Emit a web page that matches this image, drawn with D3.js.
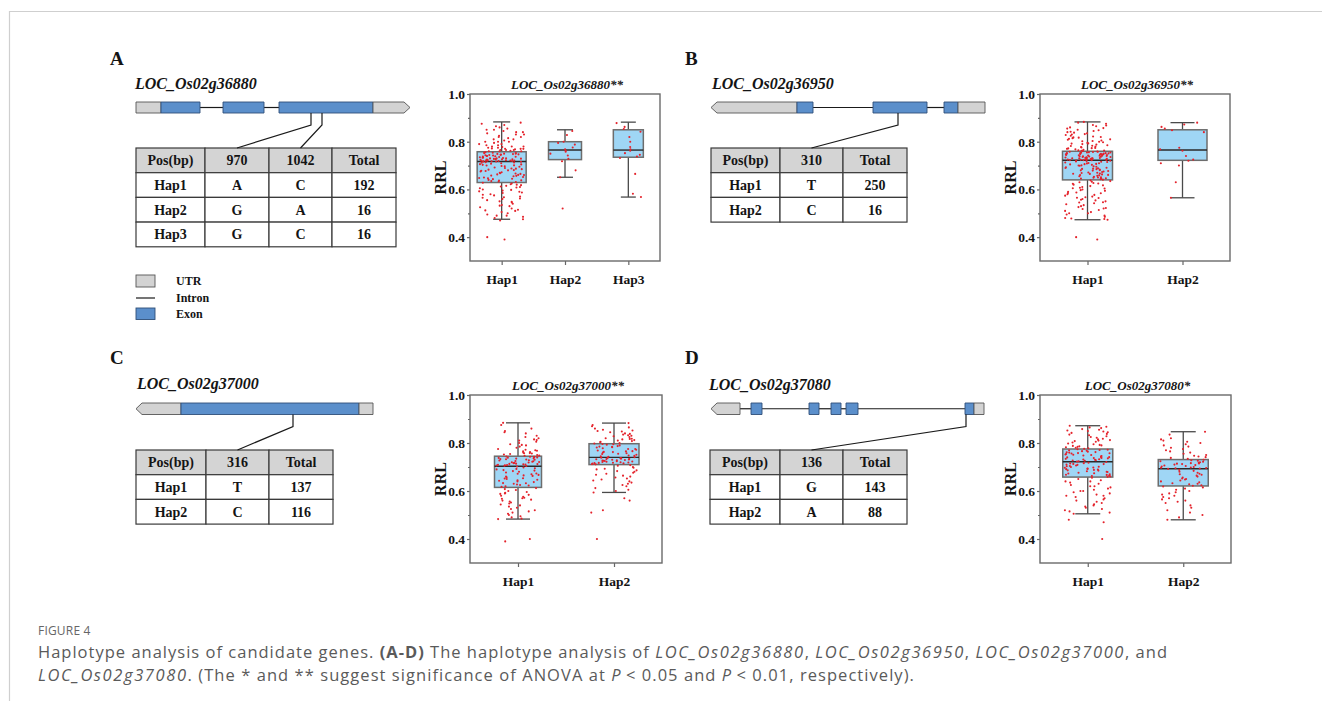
<!DOCTYPE html>
<html><head><meta charset="utf-8">
<script src="https://cdn.jsdelivr.net/npm/d3@7"></script>
<style>body{margin:0;background:#fff}svg{display:block}</style>
</head><body>
<svg id="fig" width="1322" height="701"></svg>
<script>
// ================= DATA =================
const panelLetters = ["A","B","C","D"];
const geneNames = ["LOC_Os02g36880","LOC_Os02g36950","LOC_Os02g37000","LOC_Os02g37080"];
const plotTitles = ["LOC_Os02g36880**","LOC_Os02g36950**","LOC_Os02g37000**","LOC_Os02g37080*"];
const hapsA = ["Hap1","Hap2","Hap3"];
const hapsB = ["Hap1","Hap2"];
const hapsC = ["Hap1","Hap2"];
const hapsD = ["Hap1","Hap2"];
const yMajor = [0.4,0.6,0.8,1.0];
const yMinor = [0.5,0.7,0.9];
const yDomain = [0.3,1.0];
const yLabel = "RRL";

// gene models: [feature, start, end] along the gene (relative units)
const geneA = [["utr",0,25],["exon",25,64],["intron",64,87],["exon",87,128],["intron",128,143],["exon",143,237],["utr",237,274]];
const geneB = [["utr",0,86],["exon",86,102],["intron",102,162],["exon",162,216],["intron",216,233],["exon",233,247],["utr",247,274]];
const geneC = [["utr",0,45],["exon",45,223],["utr",223,237]];
const geneD = [["utr",0,29],["intron",29,40],["exon",40,51],["intron",51,98],["exon",98,108],["intron",108,120],["exon",120,130],["intron",130,135],["exon",135,147],["intron",147,254],["exon",254,263],["utr",263,273]];
const geneLen = [274,274,237,273];
const strand = [1,-1,-1,-1];
const snpA = [175,186];
const snpB = [187];
const snpC = [157];
const snpD = [255];

// haplotype tables
const tableA = [["Pos(bp)","970","1042","Total"],["Hap1","A","C","192"],["Hap2","G","A","16"],["Hap3","G","C","16"]];
const tableB = [["Pos(bp)","310","Total"],["Hap1","T","250"],["Hap2","C","16"]];
const tableC = [["Pos(bp)","316","Total"],["Hap1","T","137"],["Hap2","C","116"]];
const tableD = [["Pos(bp)","136","Total"],["Hap1","G","143"],["Hap2","A","88"]];

const legendLabels = ["UTR","Intron","Exon"];

// box statistics (whisker low, Q1, median, Q3, whisker high)
const loA = [0.475,0.651,0.568], q1A = [0.629,0.725,0.735], medA = [0.717,0.765,0.765], q3A = [0.758,0.800,0.850], hiA = [0.883,0.850,0.882];
const loB = [0.473,0.565], q1B = [0.640,0.722], medB = [0.722,0.765], q3B = [0.760,0.850], hiB = [0.883,0.880];
const loC = [0.483,0.594], q1C = [0.615,0.710], medC = [0.703,0.740], q3C = [0.745,0.797], hiC = [0.884,0.883];
const loD = [0.505,0.480], q1D = [0.658,0.621], medD = [0.722,0.693], q3D = [0.775,0.731], hiD = [0.872,0.847];

// individual RRL values (red dots)
const ptsA1 = [.88,.875,.87,.865,.86,.855,.85,.85,.845,.84,.84,.835,.83,.83,.825,.82,.82,.815,.81,.81,.805,.80,.80,.80,.795,.79,.79,.785,.785,.78,.78,.78,.775,.775,.77,.77,.77,.765,.765,.765,.76,.76,.76,.762,.768,.772,.778,
.757,.755,.754,.752,.75,.75,.749,.747,.745,.744,.742,.74,.74,.738,.737,.735,.734,.733,.731,.73,.73,.728,.727,.726,.725,.724,.723,.722,.722,.721,.72,.72,.719,.719,.718,.718,.717,.717,.746,.739,.736,.729,.753,.743,.732,.726,.721,.748,
.716,.714,.712,.71,.708,.705,.703,.70,.698,.695,.692,.69,.688,.685,.683,.68,.678,.675,.672,.67,.668,.665,.663,.66,.658,.655,.652,.65,.648,.645,.643,.64,.638,.635,.633,.631,.713,.706,.697,.687,.677,.667,.657,.647,.637,.701,.681,.661,
.628,.625,.62,.618,.615,.612,.61,.605,.60,.598,.595,.59,.587,.585,.58,.575,.57,.567,.565,.56,.555,.55,.545,.54,.535,.53,.525,.52,.515,.51,.505,.50,.495,.49,.485,.48,.475,.47,.622,.608,.592,.578,.562,.548,.532,.512,.49,.40,.39];
const ptsA2 = [.845,.828,.80,.795,.788,.776,.768,.762,.758,.75,.742,.728,.718,.68,.651,.52];
const ptsA3 = [.878,.862,.853,.842,.82,.80,.778,.768,.762,.752,.745,.738,.732,.665,.582,.568];
const ptsB1 = [.883,.88,.875,.87,.868,.865,.86,.857,.855,.85,.848,.845,.842,.84,.838,.835,.832,.83,.828,.825,.822,.82,.818,.815,.812,.81,.808,.805,.802,.80,.798,.795,.792,.79,.788,.785,.782,.78,.778,.776,.774,.772,.77,.768,.766,.764,.762,.761,.803,.817,.793,.783,.773,.763,
.759,.758,.757,.756,.755,.754,.753,.752,.751,.75,.749,.748,.747,.746,.745,.744,.743,.742,.741,.74,.739,.738,.737,.736,.735,.734,.733,.732,.731,.73,.729,.728,.727,.726,.725,.724,.723,.722,.758,.75,.744,.736,.729,.723,.755,.747,.739,.731,.725,.752,.741,.733,.727,.724,
.721,.719,.717,.715,.713,.711,.709,.707,.705,.703,.701,.699,.697,.695,.693,.691,.689,.687,.685,.683,.681,.679,.677,.675,.673,.671,.669,.667,.665,.663,.661,.659,.657,.655,.653,.651,.649,.647,.645,.643,.641,.72,.71,.70,.69,.68,.67,.66,.65,.716,.706,.686,.666,.646,
.638,.635,.632,.63,.627,.624,.62,.617,.614,.61,.607,.604,.60,.597,.594,.59,.587,.584,.58,.577,.574,.57,.567,.564,.56,.557,.554,.55,.546,.542,.538,.534,.53,.526,.522,.518,.514,.51,.505,.50,.495,.49,.485,.48,.476,.473,.625,.605,.585,.565,.545,.52,.50,.478,.40,.39];
const ptsB2 = [.88,.872,.862,.855,.848,.84,.775,.768,.762,.74,.725,.72,.71,.70,.63,.565];
const ptsC1 = [.884,.875,.86,.85,.845,.84,.83,.825,.82,.815,.81,.805,.80,.795,.79,.785,.78,.775,.77,.768,.765,.762,.76,.758,.756,.754,.752,.75,.748,.747,.812,.792,.772,.757,
.744,.743,.742,.74,.739,.738,.736,.735,.733,.732,.73,.728,.727,.725,.724,.722,.72,.719,.717,.716,.714,.713,.711,.71,.709,.708,.707,.706,.705,.704,.741,.731,.721,.712,
.702,.698,.695,.69,.687,.683,.68,.677,.673,.67,.667,.663,.66,.657,.653,.65,.647,.643,.64,.637,.633,.63,.627,.623,.62,.617,.692,.672,.652,.632,.685,.665,.645,.625,
.612,.608,.604,.60,.596,.592,.588,.584,.58,.576,.572,.568,.564,.56,.556,.552,.548,.544,.54,.535,.53,.525,.52,.515,.51,.505,.50,.495,.49,.485,.483,.59,.57,.40,.39];
const ptsC2 = [.883,.875,.87,.865,.86,.855,.85,.848,.845,.84,.838,.835,.83,.828,.825,.82,.818,.815,.812,.81,.808,.805,.803,.80,.798,.852,.832,.817,
.796,.793,.79,.787,.784,.781,.778,.775,.772,.769,.766,.763,.76,.757,.754,.751,.748,.745,.743,.741,.795,.785,.775,.765,.755,.747,.782,.762,
.739,.738,.737,.736,.735,.734,.733,.732,.731,.73,.729,.728,.727,.726,.725,.724,.723,.722,.721,.72,.719,.718,.717,.716,.715,.714,.712,.711,
.708,.705,.70,.697,.693,.69,.686,.683,.68,.676,.672,.668,.664,.66,.656,.652,.648,.644,.64,.635,.63,.625,.62,.612,.605,.60,.594,.57,.56,.52,.51,.40];
const ptsD1 = [.872,.868,.865,.862,.858,.855,.852,.848,.845,.842,.838,.835,.832,.828,.825,.822,.818,.815,.812,.808,.805,.802,.798,.795,.792,.79,.788,.786,.784,.782,.78,.778,.776,.85,.81,
.774,.772,.77,.768,.766,.764,.762,.76,.758,.756,.754,.752,.75,.748,.746,.744,.742,.74,.738,.736,.734,.732,.73,.728,.726,.724,.723,.771,.761,.751,.741,.731,.727,.757,.737,
.721,.718,.715,.712,.709,.706,.703,.70,.697,.694,.691,.688,.685,.682,.679,.676,.673,.67,.667,.664,.661,.659,.716,.71,.704,.698,.692,.686,.68,.674,.668,.662,.713,.701,.689,
.655,.65,.645,.64,.635,.63,.625,.62,.615,.61,.605,.60,.595,.59,.585,.58,.575,.57,.565,.56,.555,.55,.545,.54,.535,.53,.525,.52,.515,.51,.505,.64,.62,.60,.58,.48,.47,.40];
const ptsD2 = [.847,.835,.82,.815,.81,.805,.80,.795,.79,.785,.78,.775,.77,.765,.76,.755,.75,.747,.744,.741,.738,.734,
.73,.728,.726,.724,.722,.72,.718,.716,.714,.712,.71,.708,.706,.704,.702,.70,.698,.697,.696,.695,.694,.715,
.692,.688,.684,.68,.676,.672,.668,.664,.66,.656,.652,.648,.644,.64,.636,.632,.628,.624,.622,.67,.65,.63,
.619,.615,.61,.605,.60,.595,.59,.585,.58,.575,.57,.565,.56,.555,.55,.54,.53,.52,.51,.50,.49,.48];

// ================= DRAWING =================
const SERIF = "'Liberation Serif','Times New Roman',serif";
const SANS = "'Open Sans','Noto Sans',sans-serif";
const INK = "#141414";
const svg = d3.select("#fig");
svg.append("rect").attr("width",1322).attr("height",701).attr("fill","#fff");
// page frame
svg.append("path").attr("d","M9.5,701V11.5H1322").attr("fill","none").attr("stroke","#cfcfcf").attr("stroke-width",1.2);

function label(x,y,txt,size,opts={}){
  return svg.append("text").attr("x",x).attr("y",y).text(txt)
    .attr("font-family",opts.family||SERIF).attr("font-size",size)
    .attr("font-weight",opts.weight||"bold").attr("font-style",opts.style||"normal")
    .attr("fill",opts.fill||INK).attr("text-anchor",opts.anchor||"start");
}

function drawGene(feats,len,dir,x0,x1,y,h,snps,targets,tableTop){
  const x = d3.scaleLinear().domain([0,len]).range([x0,x1]);
  const g = svg.append("g");
  const mid = y+h/2, ah = 6;
  feats.filter(f=>f[0]==="intron").forEach(f=>{
    g.append("line").attr("x1",x(f[1])).attr("x2",x(f[2])).attr("y1",mid).attr("y2",mid)
      .attr("stroke","#1a1a1a").attr("stroke-width",1.2);
  });
  feats.forEach((f,i)=>{
    if(f[0]==="intron") return;
    const a=x(f[1]), b=x(f[2]);
    const tipEnd = f[0]==="utr" && dir>0 && i===feats.length-1;
    const tipStart = f[0]==="utr" && dir<0 && i===0;
    let p;
    if(tipEnd) p=[[a,y],[b-ah,y],[b,mid],[b-ah,y+h],[a,y+h]];
    else if(tipStart) p=[[a,mid],[a+ah,y],[b,y],[b,y+h],[a+ah,y+h]];
    else p=[[a,y],[b,y],[b,y+h],[a,y+h]];
    g.append("path").attr("d",d3.line()(p)+"Z")
      .attr("fill",f[0]==="utr"?"#d3d3d3":"#5b8fcb")
      .attr("stroke",f[0]==="utr"?"#555":"#2f4f78").attr("stroke-width",0.9);
  });
  snps.forEach((s,i)=>{
    const sx=x(s);
    g.append("path").attr("d",d3.line()([[sx,y+h],[sx,y+h+12],[targets[i],tableTop]]))
      .attr("fill","none").attr("stroke","#1a1a1a").attr("stroke-width",1.2);
  });
}

function drawTable(rows,x0,y0,colW,rowH){
  const g = svg.append("g");
  const xs = [x0]; colW.forEach(w=>xs.push(xs[xs.length-1]+w));
  rows.forEach((r,ri)=>{
    r.forEach((c,ci)=>{
      g.append("rect").attr("x",xs[ci]).attr("y",y0+ri*rowH).attr("width",colW[ci]).attr("height",rowH)
        .attr("fill",ri===0?"#d4d4d4":"#fff").attr("stroke","#3a3a3a").attr("stroke-width",1.2);
      g.append("text").attr("x",xs[ci]+colW[ci]/2).attr("y",y0+ri*rowH+rowH/2+5)
        .attr("text-anchor","middle").attr("font-family",SERIF).attr("font-weight","bold")
        .attr("font-size",14).attr("fill",INK).text(c);
    });
  });
  return xs;
}

function jit(i,k){ const s=Math.sin((i+1)*12.9898+k*78.233)*43758.5453; return s-Math.floor(s)-0.5; }

function drawBox(cfg){
  const g = svg.append("g");
  const x = d3.scalePoint().domain(cfg.cats).range([cfg.x0,cfg.x1]).padding(0.5);
  const y = d3.scaleLinear().domain(yDomain).range([cfg.y1,cfg.y0]);
  const ya = g.append("g").attr("transform",`translate(${cfg.x0},0)`)
    .call(d3.axisLeft(y).tickValues(yMajor).tickFormat(d3.format(".1f")).tickSize(3).tickPadding(2));
  const ym = g.append("g").attr("transform",`translate(${cfg.x0},0)`)
    .call(d3.axisLeft(y).tickValues(yMinor).tickFormat("").tickSize(2));
  const xa = g.append("g").attr("transform",`translate(0,${cfg.y1})`)
    .call(d3.axisBottom(x).tickSize(4).tickPadding(9));
  [ya,ym,xa].forEach(a=>{
    a.select(".domain").remove();
    a.selectAll("line").attr("stroke","#666").attr("stroke-width",1.2);
    a.selectAll("text").attr("font-family",SERIF).attr("font-weight","bold").attr("font-size",13.5).attr("fill",INK);
  });
  g.append("rect").attr("x",cfg.x0).attr("y",cfg.y0).attr("width",cfg.x1-cfg.x0).attr("height",cfg.y1-cfg.y0)
    .attr("fill","none").attr("stroke","#6a6a6a").attr("stroke-width",1.4);
  cfg.cats.forEach((c,i)=>{
    const cx=x(c), bw=cfg.boxW[i], cw=cfg.capW[i];
    g.append("line").attr("x1",cx).attr("x2",cx).attr("y1",y(cfg.hi[i])).attr("y2",y(cfg.q3[i])).attr("stroke","#4a4a4a").attr("stroke-width",1.3);
    g.append("line").attr("x1",cx).attr("x2",cx).attr("y1",y(cfg.q1[i])).attr("y2",y(cfg.lo[i])).attr("stroke","#4a4a4a").attr("stroke-width",1.3);
    [cfg.hi[i],cfg.lo[i]].forEach(v=>g.append("line").attr("x1",cx-cw/2).attr("x2",cx+cw/2).attr("y1",y(v)).attr("y2",y(v)).attr("stroke","#4a4a4a").attr("stroke-width",1.3));
    g.append("rect").attr("x",cx-bw/2).attr("y",y(cfg.q3[i])).attr("width",bw).attr("height",y(cfg.q1[i])-y(cfg.q3[i]))
      .attr("fill","#9fd6f5").attr("stroke","#6d6d6d").attr("stroke-width",1.5);
    g.append("line").attr("x1",cx-bw/2).attr("x2",cx+bw/2).attr("y1",y(cfg.med[i])).attr("y2",y(cfg.med[i])).attr("stroke","#2a2a2a").attr("stroke-width",1.4);
    g.selectAll(null).data(cfg.pts[i]).enter().append("circle")
      .attr("cx",(d,j)=>cx+jit(j,i+cfg.seed)*bw*0.92).attr("cy",d=>y(d)).attr("r",1.05)
      .attr("fill","#e4222b");
  });
  g.append("text").attr("x",(cfg.x0+cfg.x1)/2+2).attr("y",cfg.y0-5).attr("text-anchor","middle")
    .attr("font-family",SERIF).attr("font-weight","bold").attr("font-style","italic").attr("font-size",13).attr("fill",INK).text(cfg.title);
  g.append("text").attr("transform",`translate(${cfg.x0-30},${(cfg.y0+cfg.y1)/2}) rotate(-90)`)
    .attr("text-anchor","middle").attr("dominant-baseline","central").attr("font-family",SERIF).attr("font-weight","bold").attr("font-size",16).attr("fill",INK).text(yLabel);
}

// ---- panel letters & gene names
[[110,65],[685,65],[110,364],[685,364]].forEach((p,i)=>label(p[0],p[1],panelLetters[i],19));
[[135,89],[712,89],[137,389],[709,390]].forEach((p,i)=>label(p[0],p[1],geneNames[i],16,{style:"italic"}));

// ---- tables
const rowH = 24.7;
const txA = drawTable(tableA,136,148,[69,64,63,64],rowH);
const txB = drawTable(tableB,711,148,[69,63,64],rowH);
const txC = drawTable(tableC,136,450,[70,63,64],rowH);
const txD = drawTable(tableD,710,450,[70,63,64],rowH);
const ctr = (xs,i)=>(xs[i]+xs[i+1])/2;

// ---- gene models
drawGene(geneA,geneLen[0],strand[0],136,410,102,11,snpA,[ctr(txA,1),ctr(txA,2)],148);
drawGene(geneB,geneLen[1],strand[1],711,985,102,11,snpB,[ctr(txB,1)],148);
drawGene(geneC,geneLen[2],strand[2],136,373,403,11.5,snpC,[ctr(txC,1)],450);
drawGene(geneD,geneLen[3],strand[3],711,984,403,11.5,snpD,[ctr(txD,1)],450);

// ---- legend
svg.append("rect").attr("x",136).attr("y",275).attr("width",19).attr("height",12).attr("fill","#d3d3d3").attr("stroke","#555").attr("stroke-width",0.9);
svg.append("line").attr("x1",136).attr("x2",155).attr("y1",298).attr("y2",298).attr("stroke","#1a1a1a").attr("stroke-width",1.2);
svg.append("rect").attr("x",136).attr("y",308).attr("width",19).attr("height",11.5).attr("fill","#5b8fcb").attr("stroke","#2f4f78").attr("stroke-width",0.9);
[285,302,318].forEach((yy,i)=>label(176,yy,legendLabels[i],12));

// ---- box plots
drawBox({cats:hapsA,x0:470,x1:660,y0:94,y1:261,lo:loA,q1:q1A,med:medA,q3:q3A,hi:hiA,pts:[ptsA1,ptsA2,ptsA3],boxW:[49,33,30],capW:[17,16,15],title:plotTitles[0],seed:0});
drawBox({cats:hapsB,x0:1040,x1:1230,y0:94,y1:261,lo:loB,q1:q1B,med:medB,q3:q3B,hi:hiB,pts:[ptsB1,ptsB2],boxW:[50,49],capW:[26,24],title:plotTitles[1],seed:3});
drawBox({cats:hapsC,x0:470,x1:662,y0:395,y1:563,lo:loC,q1:q1C,med:medC,q3:q3C,hi:hiC,pts:[ptsC1,ptsC2],boxW:[47,50],capW:[24,24],title:plotTitles[2],seed:5});
drawBox({cats:hapsD,x0:1040,x1:1231,y0:395,y1:563,lo:loD,q1:q1D,med:medD,q3:q3D,hi:hiD,pts:[ptsD1,ptsD2],boxW:[50,50],capW:[25,25],title:plotTitles[3],seed:7});

// ---- caption
const capFill = "#5a5a5a";
const capX = 38;
svg.append("text").attr("x",capX).attr("y",635).attr("font-family",SANS).attr("font-size",12).attr("fill","#666").attr("letter-spacing",0.2).text("FIGURE 4");
const line1 = [["Haplotype analysis of candidate genes. ","normal","normal"],["(A-D)","bold","normal"],[" The haplotype analysis of ","normal","normal"],["LOC_Os02g36880","normal","italic"],[", ","normal","normal"],["LOC_Os02g36950","normal","italic"],[", ","normal","normal"],["LOC_Os02g37000","normal","italic"],[", and","normal","normal"]];
const line2 = [["LOC_Os02g37080","normal","italic"],[". (The * and ** suggest significance of ANOVA at ","normal","normal"],["P","normal","italic"],[" < 0.05 and ","normal","normal"],["P","normal","italic"],[" < 0.01, respectively).","normal","normal"]];
const lineEnds = [1168,915];
[[line1,658],[line2,681]].forEach(([parts,yy],li)=>{
  const t = svg.append("text").attr("x",capX).attr("y",yy).attr("font-family",SANS).attr("font-size",16.5).attr("fill",capFill).attr("xml:space","preserve");
  parts.forEach(p=>t.append("tspan").attr("font-weight",p[1]).attr("font-style",p[2])
    .attr("letter-spacing",(p[2]==="italic" && p[0].length>1)?1.6:0).text(p[0]));
  // spread the upright words so the line ends where it does in the figure
  const up = t.selectAll("tspan").filter(function(){return this.getAttribute("font-style")!=="italic";});
  const n = up.nodes().reduce((s,nd)=>s+nd.textContent.length,0);
  const w = t.node().getBBox().width;
  const ls = Math.max(-0.3,Math.min(1.5,(lineEnds[li]-capX-w)/n));
  up.attr("letter-spacing",ls);
});
</script>
</body></html>
